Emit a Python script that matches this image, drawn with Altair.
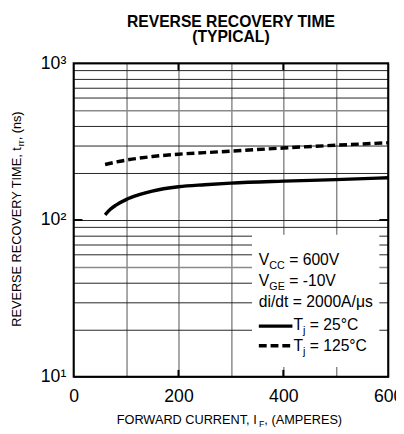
import altair as alt
import pandas as pd

# ---- data ----
current_25 = [60, 70, 80, 100, 125, 150, 200, 250, 300, 400, 500, 600]
trr_25 = [108, 117, 124, 135, 145, 153, 163, 168, 172, 177, 181, 186]
current_125 = [60, 80, 100, 150, 200, 250, 300, 400, 500, 600]
trr_125 = [226, 234, 241, 254, 263, 269, 275, 288, 300, 311]

x_ticks = [0, 100, 200, 300, 400, 500, 600]
y_ticks = [10, 20, 30, 40, 50, 60, 70, 80, 90, 100, 200, 300, 400, 500, 600, 700, 800, 900, 1000]
x_major = [200, 400]
y_major = [100]

title_lines = ["REVERSE RECOVERY TIME", "(TYPICAL)"]
x_title = [("FORWARD CURRENT, I", "main"), ("F", "sub"), (", (AMPERES)", "main")]
y_title = [("REVERSE RECOVERY TIME, t", "main"), ("rr", "sub"), (", (ns)", "main")]
legend_lines = [
    [("V", "main"), ("CC", "sub"), (" = 600V", "main")],
    [("V", "main"), ("GE", "sub"), (" = -10V", "main")],
    [("di/dt = 2000A/μs", "main")],
]
legend_series = [
    [("T", "main"), ("j", "sub"), (" = 25°C", "main")],
    [("T", "main"), ("j", "sub"), (" = 125°C", "main")],
]

FONT = "Liberation Sans, Arial, Helvetica, sans-serif"
W_PLOT, H_PLOT = 321, 320

# Arial / Liberation Sans advance widths (per 1000 em)
AW = {' ': 278, 'A': 667, 'B': 667, 'C': 722, 'D': 722, 'E': 667, 'F': 611, 'G': 778, 'H': 722,
      'I': 278, 'J': 500, 'K': 667, 'L': 556, 'M': 833, 'N': 722, 'O': 778, 'P': 667, 'Q': 778,
      'R': 722, 'S': 667, 'T': 611, 'U': 722, 'V': 667, 'W': 944, 'X': 667, 'Y': 667, 'Z': 611,
      'a': 556, 'b': 556, 'c': 500, 'd': 556, 'e': 556, 'f': 278, 'g': 556, 'h': 556, 'i': 222,
      'j': 222, 'k': 500, 'l': 222, 'm': 833, 'n': 556, 'o': 556, 'p': 556, 'q': 556, 'r': 333,
      's': 500, 't': 278, 'u': 556, 'v': 500, 'w': 722, 'x': 500, 'y': 500, 'z': 500,
      ',': 278, '.': 278, '(': 333, ')': 333, '/': 278, '=': 584, '-': 333, '°': 400, 'μ': 576}


def tw(s, size):
    return sum(AW.get(c, 556) for c in s) * size / 1000.0


def pieces_rows(pieces, x0, y0, main, sub, sub_dy, rotated=False, center=False):
    sizes = {"main": main, "sub": sub}
    total = sum(tw(t, sizes[k]) for t, k in pieces)
    pos = -total / 2 if center else 0.0
    rows = []
    for t, k in pieces:
        fs = sizes[k]
        stripped = t.lstrip(" ")
        pos += tw(t[: len(t) - len(stripped)], fs)  # leading spaces become an offset
        dy = sub_dy if k == "sub" else 0
        if rotated:
            rows.append({"t": stripped, "px": x0 + dy, "py": y0 - pos, "fs": fs})
        else:
            rows.append({"t": stripped, "px": x0 + pos, "py": y0 + dy, "fs": fs})
        pos += tw(stripped, fs)
    return rows


rows_h = []
rows_h += pieces_rows(x_title, 44, 368.3, 13, 9, 3)
for line, b in zip(legend_lines, [206, 227.3, 249]):
    rows_h += pieces_rows(line, 189, b, 16, 11, 4)
for line, b in zip(legend_series, [272.7, 293.3]):
    rows_h += pieces_rows(line, 224.3, b, 16, 11, 4)
df_h = pd.DataFrame(rows_h)

df_v = pd.DataFrame(pieces_rows(y_title, -53.5, 159, 13, 9, 3, rotated=True, center=True))
df_t = pd.DataFrame({"t": title_lines, "px": [160.5, 160.5], "py": [-37, -21.3], "fs": [16, 16]})

df25 = pd.DataFrame({"I": current_25, "t": trr_25})
df125 = pd.DataFrame({"I": current_125, "t": trr_125})

xs = alt.Scale(domain=[0, 600], nice=False, zero=False)
ys = alt.Scale(type="log", domain=[10, 1000], nice=False)

x_axis = alt.Axis(values=x_ticks, title=None, grid=True, ticks=False, domain=False,
                  labelExpr="datum.value % 200 == 0 ? datum.label : ''",
                  labelFontSize=18, labelFont=FONT, labelColor="black", labelPadding=11,
                  labelFlush=False, gridColor="#8a8a8a", gridWidth=1.5)
y_axis = alt.Axis(values=y_ticks, title=None, grid=True, ticks=False, domain=False,
                  labelExpr="datum.value == 10 ? '10¹' : datum.value == 100 ? '10²' : datum.value == 1000 ? '10³' : ''",
                  labelFontSize=18, labelFont=FONT, labelColor="black", labelPadding=8,
                  labelFlush=False,
                  gridColor={"condition": {"test": "datum.value == 50 || datum.value == 500", "value": "#8a8a8a"}, "value": "#222222"},
                  gridWidth={"condition": {"test": "datum.value == 50 || datum.value == 500", "value": 1.5}, "value": 1})

line25 = alt.Chart(df25).mark_line(color="black", strokeWidth=3.5, interpolate="monotone").encode(
    x=alt.X("I:Q", scale=xs, axis=x_axis), y=alt.Y("t:Q", scale=ys, axis=y_axis))
line125 = alt.Chart(df125).mark_line(color="black", strokeWidth=3.5, strokeDash=[8, 4], interpolate="monotone").encode(
    x=alt.X("I:Q", scale=xs), y=alt.Y("t:Q", scale=ys))

one = pd.DataFrame({"k": [0]})
ticks_top = alt.Chart(pd.DataFrame({"I": x_major})).mark_rule(color="black", strokeWidth=2).encode(
    x=alt.X("I:Q", scale=xs), y=alt.value(0), y2=alt.value(7))
ticks_bot = alt.Chart(pd.DataFrame({"I": x_major})).mark_rule(color="black", strokeWidth=2).encode(
    x=alt.X("I:Q", scale=xs), y=alt.value(H_PLOT - 7), y2=alt.value(H_PLOT))
ticks_l = alt.Chart(pd.DataFrame({"t": y_major})).mark_rule(color="black", strokeWidth=2).encode(
    y=alt.Y("t:Q", scale=ys), x=alt.value(0), x2=alt.value(9))
ticks_r = alt.Chart(pd.DataFrame({"t": y_major})).mark_rule(color="black", strokeWidth=2).encode(
    y=alt.Y("t:Q", scale=ys), x=alt.value(W_PLOT - 9), x2=alt.value(W_PLOT))

legend_box = alt.Chart(one).mark_rect(fill="white").encode(
    x=alt.value(182), x2=alt.value(312), y=alt.value(175), y2=alt.value(310))
leg_solid = alt.Chart(one).mark_rule(color="black", strokeWidth=3.5).encode(
    x=alt.value(189), x2=alt.value(223.3), y=alt.value(268.3))
leg_dash = alt.Chart(one).mark_rule(color="black", strokeWidth=3.5, strokeDash=[8, 4]).encode(
    x=alt.value(189), x2=alt.value(223.3), y=alt.value(288.3))

border = alt.Chart(one).mark_rect(filled=False, stroke="black", strokeWidth=2).encode(
    x=alt.value(0), x2=alt.value(W_PLOT), y=alt.value(0), y2=alt.value(H_PLOT))

txt_h = alt.Chart(df_h).mark_text(align="left", baseline="alphabetic", font=FONT, color="black").encode(
    x=alt.X("px:Q", scale=None, axis=None), y=alt.Y("py:Q", scale=None, axis=None),
    text="t:N", size=alt.Size("fs:Q", scale=None, legend=None))
txt_v = alt.Chart(df_v).mark_text(align="left", baseline="alphabetic", angle=270, font=FONT, color="black").encode(
    x=alt.X("px:Q", scale=None, axis=None), y=alt.Y("py:Q", scale=None, axis=None),
    text="t:N", size=alt.Size("fs:Q", scale=None, legend=None))
txt_t = alt.Chart(df_t).mark_text(align="center", baseline="alphabetic", font=FONT, fontWeight="bold", color="black").encode(
    x=alt.X("px:Q", scale=None, axis=None), y=alt.Y("py:Q", scale=None, axis=None),
    text="t:N", size=alt.Size("fs:Q", scale=None, legend=None))

chart = alt.layer(
    line25, line125, ticks_top, ticks_bot, ticks_l, ticks_r,
    legend_box, leg_solid, leg_dash, border, txt_h, txt_v, txt_t
).properties(
    width=W_PLOT, height=H_PLOT,
    autosize=alt.AutoSizeParams(type="none"),
    padding={"left": 67, "top": 52, "right": 8, "bottom": 54},
).configure_view(strokeWidth=0).configure(background="white")

chart.save("out.html", embed_options={"renderer": "svg", "actions": False})
